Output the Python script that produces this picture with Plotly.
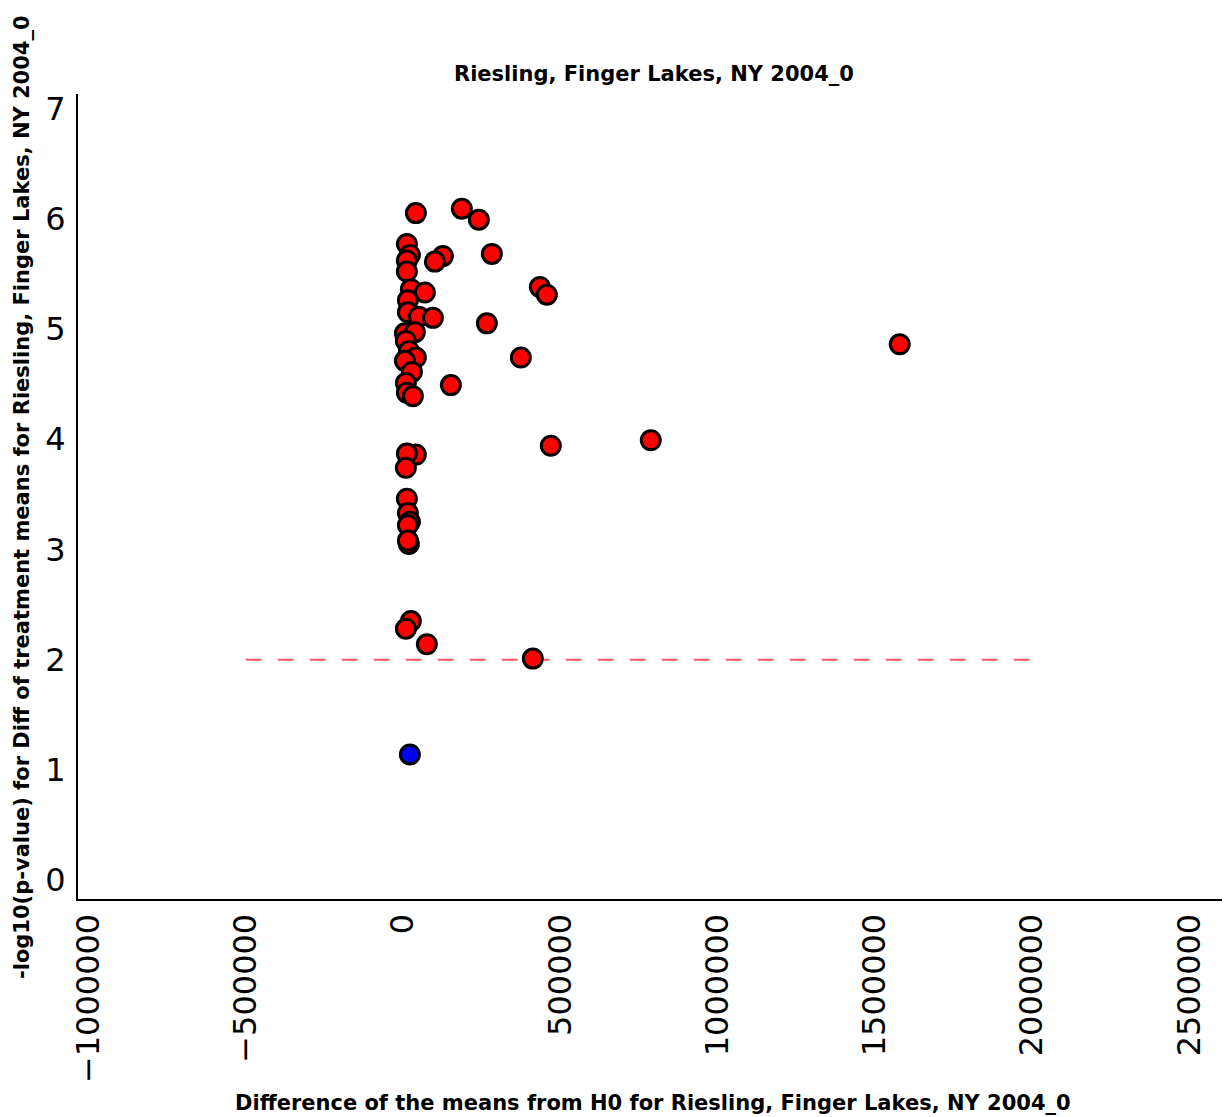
import plotly.graph_objects as go

# ---- data ----
sig_x = [41300, 187500, 241600, 282900, 127100, 101700, 12700, 22300, 12700, 12700,
         25400, 69900, 435500, 457700, 15900, 15900, 50900, 95400, 267000, 6400,
         38100, 9500, 19100, 41300, 375100, 1579800, 6400, 28600, 9500, 152600,
         12700, 31800, 788300, 470400, 41300, 12700, 9500, 12700, 15900, 22300,
         15900, 19100, 15900, 25400, 9500, 76300, 413200]
sig_y = [6.05, 6.09, 5.99, 5.68, 5.66, 5.61, 5.77, 5.67, 5.62, 5.52,
         5.36, 5.33, 5.38, 5.31, 5.26, 5.15, 5.11, 5.10, 5.05, 4.96,
         4.97, 4.89, 4.80, 4.74, 4.74, 4.86, 4.71, 4.61, 4.51, 4.49,
         4.42, 4.39, 3.99, 3.94, 3.86, 3.87, 3.74, 3.46, 3.33, 3.25,
         3.22, 3.05, 3.08, 2.35, 2.28, 2.14, 2.01]
nonsig_x = [22300]
nonsig_y = [1.14]

threshold_x = [-500000, 2000000]
threshold_y = [2.0, 2.0]

x_ticks = [-1000000, -500000, 0, 500000, 1000000, 1500000, 2000000, 2500000]
x_ticktext = ["\u22121000000", "\u2212500000", "0", "500000", "1000000", "1500000", "2000000", "2500000"]
y_ticks = [0, 1, 2, 3, 4, 5, 6, 7]

title = "Riesling, Finger Lakes, NY 2004_0"
xlabel = "Difference of the means from H0 for Riesling, Finger Lakes, NY 2004_0"
ylabel = "-log10(p-value) for Diff of treatment means for Riesling, Finger Lakes, NY 2004_0"

# page body has an 8px margin, so the figure origin sits at (8, 8)
OFF = 8
W, H = 1230 - OFF, 1117 - OFF
L, T = 78 - OFF, 94 - OFF
BOTTOM = 899 - OFF
B = H - BOTTOM
R = 0
font = "DejaVu Sans"

ph = H - T - B
pw = W - L - R


def py(page_y):
    return (BOTTOM - (page_y - OFF)) / ph


def px(page_x):
    return ((page_x - OFF) - L) / pw


fig = go.Figure()
fig.add_trace(go.Scatter(x=threshold_x, y=threshold_y, mode="lines",
                         line=dict(color="#ff5555", width=2, dash="16px,16px"),
                         hoverinfo="skip", showlegend=False))
fig.add_trace(go.Scatter(x=sig_x, y=sig_y, mode="markers",
                         marker=dict(size=19, color="#ff0000", line=dict(color="black", width=3)),
                         showlegend=False))
fig.add_trace(go.Scatter(x=nonsig_x, y=nonsig_y, mode="markers",
                         marker=dict(size=19, color="#0000ff", line=dict(color="black", width=3)),
                         showlegend=False))

fig.update_layout(
    width=W, height=H,
    margin=dict(l=L, r=R, t=T, b=B, pad=0),
    plot_bgcolor="white", paper_bgcolor="white",
    font=dict(family=font, color="black"),
    xaxis=dict(range=[-1033000, 2630000], tickvals=x_ticks, ticktext=x_ticktext,
               tickangle=-90, tickfont=dict(size=32, family=font), showgrid=False,
               zeroline=False, showline=True, linecolor="black", linewidth=2,
               ticks="", ticklabelstandoff=0),
    yaxis=dict(range=[-0.17, 7.13], tickvals=y_ticks, tickfont=dict(size=32, family=font),
               showgrid=False, zeroline=False, showline=True, linecolor="black", linewidth=2,
               ticks="outside", ticklen=4, tickcolor="rgba(0,0,0,0)"),
    annotations=[
        dict(text="<b>" + title + "</b>", xref="paper", yref="paper", x=px(654),
             y=py(74), xanchor="center", yanchor="middle", showarrow=False,
             font=dict(size=21, family=font)),
        dict(text="<b>" + xlabel + "</b>", xref="paper", yref="paper", x=px(653),
             y=py(1103), xanchor="center", yanchor="middle", showarrow=False,
             font=dict(size=21, family=font)),
        dict(text="<b>" + ylabel + "</b>", xref="paper", yref="paper", x=px(22),
             y=py(497), xanchor="center", yanchor="middle", showarrow=False,
             textangle=-90, font=dict(size=21, family=font)),
    ],
)
fig.write_html("out.html")
